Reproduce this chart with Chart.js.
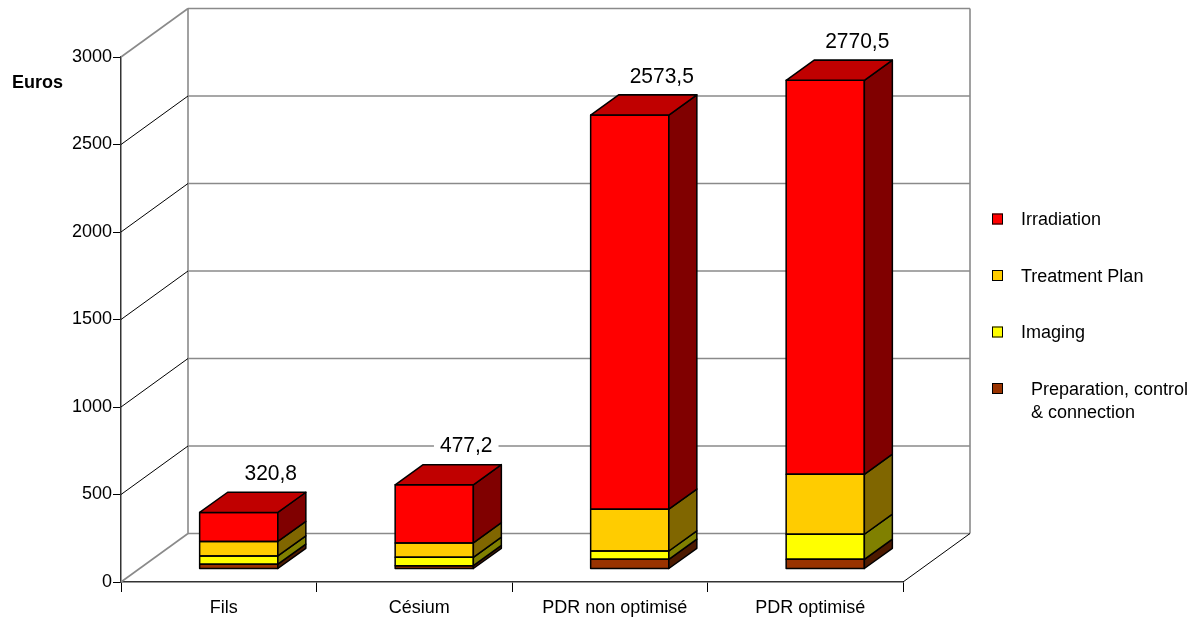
<!DOCTYPE html>
<html>
<head>
<meta charset="utf-8">
<title>Coûts par technique</title>
<script src="https://cdn.jsdelivr.net/npm/chart.js@4/dist/chart.umd.min.js"></script>
<style>
  html, body { margin: 0; padding: 0; background: #ffffff; }
  canvas { display: block; }
</style>
</head>
<body>
<canvas id="chart" width="1196" height="620"></canvas>
<script>
// Cost components per technique, in euros (stacked bottom to top)
const categories = ['Fils', 'Césium', 'PDR non optimisé', 'PDR optimisé'];
const preparation = [27, 19, 55, 55];
const imaging = [47, 47, 47, 142];
const treatmentPlan = [82, 82, 237, 340];
const irradiation = [164.8, 329.2, 2234.5, 2233.5];
const seriesNames = ['  Preparation, control\n  & connection', 'Imaging', 'Treatment Plan', 'Irradiation'];
const yAxisTitle = 'Euros';
const yMin = 0, yMax = 3000, yStep = 500;

const FONT = '"Liberation Sans", Arial, sans-serif';

// Oblique projection used to draw the walls and the 3D bar faces
const proj = {
  wallDx: 67, wallDy: -48.5,   // depth of the back wall
  barDx: 20, barDy: -13,       // bar front plane behind the axis plane
  faceDx: 28, faceDy: -20,     // depth of each bar
  stretch: 1.008
};

function line(ctx, x0, y0, x1, y1) {
  ctx.beginPath();
  ctx.moveTo(x0, y0);
  ctx.lineTo(x1, y1);
  ctx.stroke();
}

function poly(ctx, pts, fill) {
  ctx.beginPath();
  ctx.moveTo(pts[0][0], pts[0][1]);
  for (let k = 1; k < pts.length; k++) ctx.lineTo(pts[k][0], pts[k][1]);
  ctx.closePath();
  ctx.fillStyle = fill;
  ctx.fill();
  ctx.stroke();
}

const box3d = {
  id: 'box3d',
  beforeDatasetsDraw(chart) {
    const { ctx, chartArea: a, scales: { y } } = chart;
    const dx = proj.wallDx, dy = proj.wallDy;
    ctx.save();
    // back wall grid lines
    ctx.strokeStyle = '#8a8a8a';
    ctx.lineWidth = 1.6;
    y.ticks.forEach(t => {
      const py = y.getPixelForValue(t.value) + dy;
      line(ctx, a.left + dx, py, a.right + dx, py);
    });
    line(ctx, a.left + dx, y.getPixelForValue(yMax) + dy, a.left + dx, y.getPixelForValue(yMin) + dy);
    line(ctx, a.right + dx, y.getPixelForValue(yMax) + dy, a.right + dx, y.getPixelForValue(yMin) + dy);
    // side wall lines
    y.ticks.forEach(t => {
      const py = y.getPixelForValue(t.value);
      const edge = t.value === yMin || t.value === yMax;
      ctx.strokeStyle = edge ? '#8a8a8a' : '#000000';
      ctx.lineWidth = edge ? 1.6 : 1;
      line(ctx, a.left, py, a.left + dx, py + dy);
    });
    // floor edge
    ctx.strokeStyle = '#000000';
    ctx.lineWidth = 1;
    line(ctx, a.right, a.bottom, a.right + dx, a.bottom + dy);
    ctx.restore();

    // bars are drawn in the projected bar plane
    ctx.save();
    ctx.translate(proj.barDx, a.bottom + proj.barDy);
    ctx.scale(1, proj.stretch);
    ctx.translate(0, -a.bottom);
  },
  afterDatasetsDraw(chart) {
    const { ctx } = chart;
    const metas = chart.getSortedVisibleDatasetMetas().slice().sort((m1, m2) => m1.index - m2.index);
    const fdx = proj.faceDx, fdy = proj.faceDy;
    ctx.lineWidth = 1.5;
    ctx.lineJoin = 'round';
    ctx.strokeStyle = '#000000';
    categories.forEach((cat, i) => {
      let topRect = null, topSet = null, total = 0;
      metas.forEach(meta => {
        const ds = chart.data.datasets[meta.index];
        const bar = meta.data[i];
        const p = bar.getProps(['x', 'y', 'base', 'width'], true);
        const left = p.x - p.width / 2, right = p.x + p.width / 2;
        const top = Math.min(p.y, p.base), bottom = Math.max(p.y, p.base);
        total += ds.data[i];
        // outline of the front face, centred on its edges
        ctx.strokeRect(left, top, right - left, bottom - top);
        poly(ctx, [[right, top], [right + fdx, top + fdy], [right + fdx, bottom + fdy], [right, bottom]], ds.sideColor);
        topRect = { left, right, top, cx: p.x };
        topSet = ds;
      });
      if (!topRect) return;
      poly(ctx, [[topRect.left, topRect.top], [topRect.left + fdx, topRect.top + fdy],
                 [topRect.right + fdx, topRect.top + fdy], [topRect.right, topRect.top]], topSet.topColor);
      // total label
      const text = (Math.round(total * 10) / 10).toFixed(1).replace('.', ',');
      ctx.save();
      ctx.font = '21px ' + FONT;
      ctx.textAlign = 'center';
      ctx.textBaseline = 'middle';
      const lx = topRect.cx + 32, ly = topRect.top - 39;
      const w = ctx.measureText(text).width;
      ctx.fillStyle = '#ffffff';
      ctx.fillRect(lx - w / 2 - 6, ly - 11, w + 12, 22);
      ctx.fillStyle = '#000000';
      ctx.fillText(text, lx, ly + 1);
      ctx.restore();
    });
    ctx.restore();
  },
  afterDraw(chart) {
    const { ctx } = chart;
    ctx.save();
    // axis title
    ctx.font = 'bold 18px ' + FONT;
    ctx.fillStyle = '#000000';
    ctx.textAlign = 'left';
    ctx.textBaseline = 'middle';
    ctx.fillText(yAxisTitle, 12, 83);
    // legend, top series first
    ctx.font = '18px ' + FONT;
    const sets = chart.data.datasets.slice().reverse();
    sets.forEach((ds, k) => {
      const cy = 219 + k * 56.5;
      ctx.fillStyle = ds.backgroundColor;
      ctx.fillRect(992, cy - 5.5, 11, 11);
      ctx.strokeStyle = '#000000';
      ctx.lineWidth = 1;
      ctx.strokeRect(992.5, cy - 5, 10, 10);
      ctx.fillStyle = '#000000';
      ds.label.split('\n').forEach((ln, j) => {
        ctx.fillText(ln, 1021, cy + 1.5 + j * 22.7);
      });
    });
    ctx.restore();
  }
};

const colors = {
  front: ['#993300', '#ffff00', '#ffcc00', '#ff0000'],
  side: ['#4d1a00', '#808000', '#806600', '#800000'],
  top: ['#7a2900', '#cccc00', '#cca300', '#c00000']
};

const series = [preparation, imaging, treatmentPlan, irradiation];

new Chart(document.getElementById('chart'), {
  type: 'bar',
  data: {
    labels: categories,
    datasets: series.map((values, k) => ({
      label: seriesNames[k],
      data: values,
      backgroundColor: colors.front[k],
      sideColor: colors.side[k],
      topColor: colors.top[k],
      borderWidth: 0,
      categoryPercentage: 1,
      barPercentage: 0.4,
      clip: false
    }))
  },
  options: {
    responsive: false,
    devicePixelRatio: 1,
    animation: false,
    layout: { padding: { top: 57, right: 293, left: 0, bottom: 0 } },
    plugins: { legend: { display: false }, tooltip: { enabled: false } },
    scales: {
      x: {
        stacked: true,
        grid: { drawOnChartArea: false, drawTicks: true, tickLength: 10, color: '#000000', lineWidth: 1 },
        border: { display: true, color: '#333333', width: 1.5 },
        ticks: { color: '#000000', font: { family: FONT, size: 18 }, padding: 5, labelOffset: 5, maxRotation: 0 },
        afterFit(scale) { scale.height = 38; }
      },
      y: {
        stacked: true,
        min: yMin,
        max: yMax,
        grid: { drawOnChartArea: false, drawTicks: true, tickLength: 8, color: '#000000', lineWidth: 1 },
        border: { display: true, color: '#333333', width: 1.5 },
        ticks: {
          stepSize: yStep, color: '#000000', font: { family: FONT, size: 18 }, padding: 1,
          callback: v => String(v)
        },
        afterFit(scale) { scale.width = 121; }
      }
    }
  },
  plugins: [box3d]
});
</script>
</body>
</html>
